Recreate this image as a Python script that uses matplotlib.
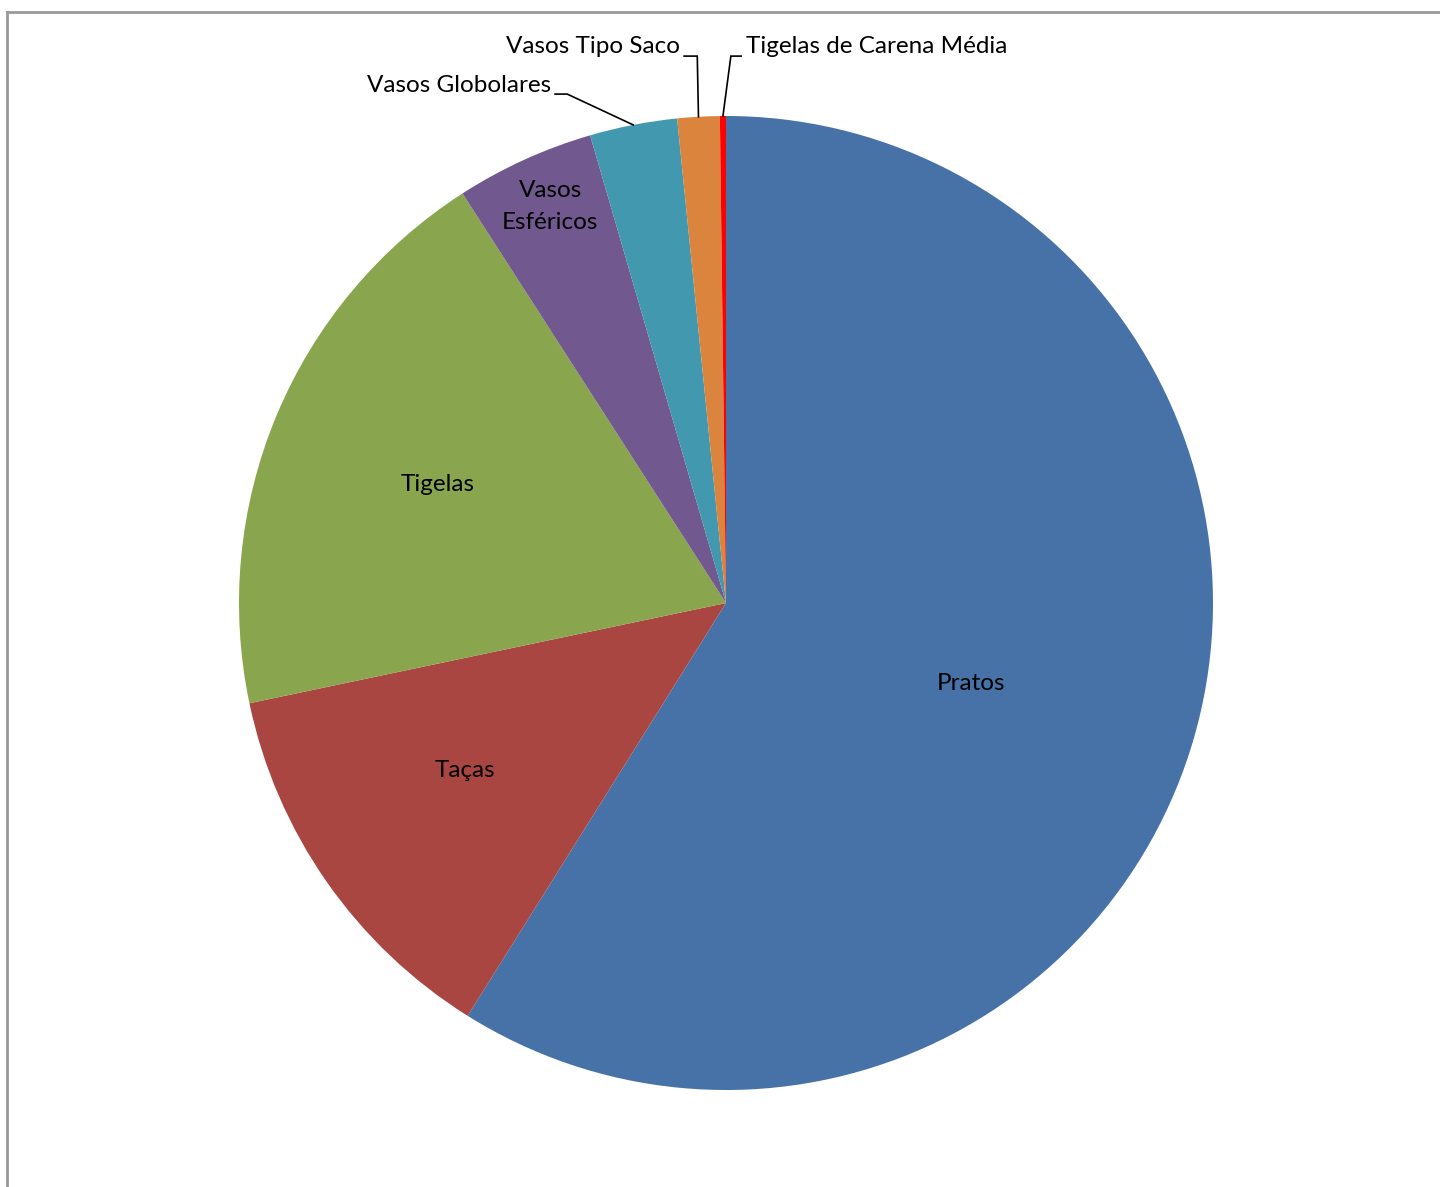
import numpy as np
import matplotlib
matplotlib.use("Agg")
import matplotlib.pyplot as plt
from matplotlib.lines import Line2D

plt.rcParams['font.family'] = ['Lato', 'DejaVu Sans']

# share of each vessel type (%)
categories = ["Pratos", "Taças", "Tigelas", "Vasos\nEsféricos",
              "Vasos Globolares", "Vasos Tipo Saco", "Tigelas de Carena Média"]
values = [58.9, 12.8, 19.2, 4.6, 2.9, 1.4, 0.2]
colors = ["#4672A7", "#AA4642", "#89A54E", "#71588F", "#4198AF", "#DB843D", "#FF0000"]

W, H = 1440, 1187
fig = plt.figure(figsize=(W / 100, H / 100), dpi=100)

# outer chart frame (runs off the right and bottom edges)
fig.add_artist(Line2D([7 / W, 7 / W], [0, 1 - 12 / H], color="#999999", lw=2))
fig.add_artist(Line2D([7 / W, 1], [1 - 12 / H, 1 - 12 / H], color="#999999", lw=2))

cx, cy, r = 726, 603, 487
ax = fig.add_axes([(cx - r) / W, (H - cy - r) / H, 2 * r / W, 2 * r / H])
wedges, _ = ax.pie(values, colors=colors, startangle=90, counterclock=False,
                   radius=1, wedgeprops=dict(linewidth=0))
ax.set_xlim(-1, 1)
ax.set_ylim(-1, 1)
ax.set_aspect("equal")
ax.axis("off")

fs = 17.5
# labels inside the big slices (positions in pie radius units)
inner_pos = [(0.503, -0.166), (-0.536, -0.343), (-0.593, 0.244), (-0.361, 0.815)]
for lab, (tx, ty) in zip(categories[:4], inner_pos):
    ax.text(tx, ty, lab, ha="center", va="center",
            fontsize=fs, color="black", linespacing=1.65)

# small slices: outside labels with leader lines
# (elbow point, end of horizontal stub, text anchor, alignment)
outer = [
    ((-0.326, 1.045), (-0.351, 1.045), (-0.359, 1.062), "right"),
    ((-0.059, 1.123), (-0.086, 1.123), (-0.094, 1.142), "right"),
    ((0.010, 1.123), (0.031, 1.123), (0.041, 1.142), "left"),
]
for w, lab, (elb, stub, txt, ha) in zip(wedges[4:], categories[4:], outer):
    mid = np.deg2rad((w.theta1 + w.theta2) / 2)
    ex, ey = np.cos(mid), np.sin(mid)
    ax.plot([ex, elb[0], stub[0]], [ey, elb[1], stub[1]], color="black", lw=1.2,
            clip_on=False, solid_joinstyle="miter")
    ax.text(txt[0], txt[1], lab, ha=ha, va="center", fontsize=fs, color="black",
            clip_on=False)

fig.savefig("out.png", dpi=100)
